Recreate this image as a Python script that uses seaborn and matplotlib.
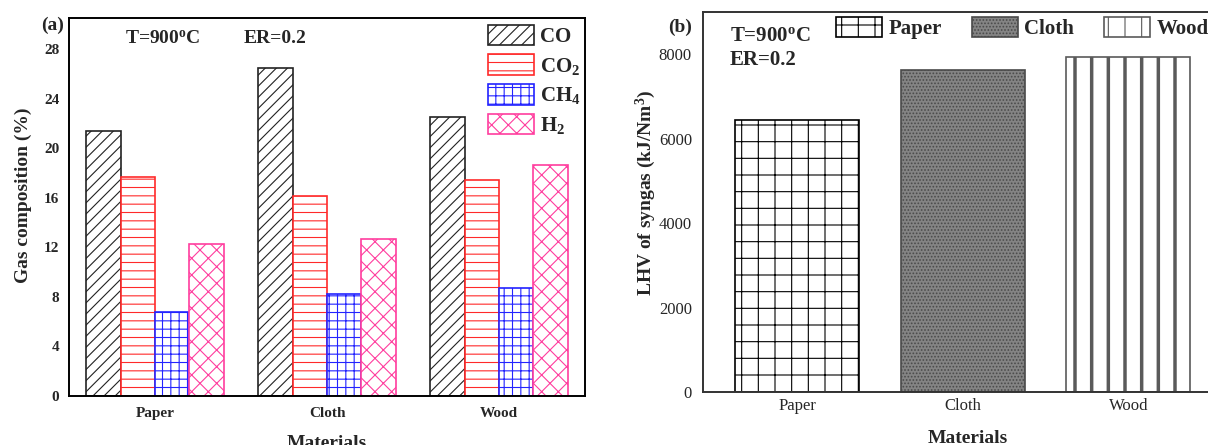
import numpy as np
import pandas as pd
import matplotlib.pyplot as plt
import seaborn as sns

# Data
materials = ['Paper', 'Cloth', 'Wood']
gases = ['CO', 'CO2', 'CH4', 'H2']
gas_labels = ['CO', 'CO$_\\mathbf{2}$', 'CH$_\\mathbf{4}$', 'H$_\\mathbf{2}$']
co = [21.4, 26.5, 22.5]
co2 = [17.7, 16.1, 17.4]
ch4 = [6.8, 8.2, 8.7]
h2 = [12.3, 12.7, 18.6]
lhv = [6450, 7620, 7930]
gas_ticks = [0, 4, 8, 12, 16, 20, 24, 28]
lhv_ticks = [0, 2000, 4000, 6000, 8000]

sns.set_style('white')
plt.rcParams['font.family'] = ['Liberation Serif', 'DejaVu Serif']
plt.rcParams['mathtext.fontset'] = 'custom'
plt.rcParams['mathtext.rm'] = 'Liberation Serif'
plt.rcParams['mathtext.bf'] = 'Liberation Serif:bold'
plt.rcParams['mathtext.it'] = 'Liberation Serif:italic'
plt.rcParams['hatch.linewidth'] = 0.8

df = pd.DataFrame({
    'Material': materials * 4,
    'Gas': np.repeat(gases, 3),
    'Value': co + co2 + ch4 + h2,
})

fig = plt.figure(figsize=(12.08, 4.45), dpi=100)
ax1 = fig.add_axes([69 / 1208, 49 / 445, 516 / 1208, 378 / 445])
ax2 = fig.add_axes([703 / 1208, 53 / 445, 509 / 1208, 380 / 445])

# (a) gas composition
sns.barplot(data=df, x='Material', y='Value', hue='Gas', order=materials,
            hue_order=gases, width=0.8, errorbar=None, ax=ax1, legend=False)
gas_hatch = ['///', '--', '++', 'xx']
gas_color = ['#222222', '#ff2a2a', '#2323ff', '#ff3d9e']
for cont, h, c in zip(ax1.containers, gas_hatch, gas_color):
    for p in cont:
        p.set_facecolor('white')
        p.set_edgecolor(c)
        p.set_hatch(h)
        p.set_linewidth(1.2)
ax1.legend(ax1.containers, gas_labels, loc='upper right', frameon=False,
           bbox_to_anchor=(1.012, 1.01),
           prop={'weight': 'bold', 'size': 15}, handlelength=2.2, handleheight=1.15,
           labelspacing=0.35, handletextpad=0.3, borderaxespad=0.1)

ax1.set_xlim(-0.5, 2.5)
ax1.set_ylim(0, 30.5)
ax1.set_yticks(gas_ticks)
ax1.tick_params(axis='y', direction='out', length=5, width=1.3, labelsize=11, pad=2)
ax1.tick_params(axis='x', length=0, labelsize=11, pad=8)
for lab in ax1.get_xticklabels() + ax1.get_yticklabels():
    lab.set_fontweight('bold')
for s in ax1.spines.values():
    s.set_linewidth(1.4)
    s.set_color('black')
ax1.set_ylabel('Gas composition (%)', fontsize=14, fontweight='bold')
ax1.yaxis.set_label_coords(-0.071, 0.53)
ax1.set_xlabel('Materials', fontsize=14, fontweight='bold')
ax1.xaxis.set_label_coords(0.5, -0.102)
ax1.text(0.108, 0.945, 'T=900$^\\mathbf{o}$C', transform=ax1.transAxes,
         fontsize=14, fontweight='bold', va='center')
ax1.text(0.338, 0.945, 'ER=0.2', transform=ax1.transAxes,
         fontsize=14, fontweight='bold', va='center')
fig.text(53 / 1208, 1 - 25 / 445, '(a)', fontsize=14, fontweight='bold',
         ha='center', va='center')

# (b) LHV of syngas
sns.barplot(x=materials, y=lhv, hue=materials, order=materials, hue_order=materials,
            width=0.75, errorbar=None, ax=ax2, legend=False)
lhv_hatch = ['+', '.....', '|']
lhv_face = ['white', '#848484', 'white']
lhv_edge = ['black', '#4a4a4a', '#5a5a5a']
for cont, h, fc, ec in zip(ax2.containers, lhv_hatch, lhv_face, lhv_edge):
    for p in cont:
        p.set_facecolor(fc)
        p.set_edgecolor(ec)
        p.set_hatch(h)
        p.set_linewidth(1.2)
        if h == '|' and hasattr(p, 'set_hatch_linewidth'):
            p.set_hatch_linewidth(2.5)
ax2.legend(ax2.containers, materials, loc='upper left', ncol=3, frameon=False,
           bbox_to_anchor=((826 - 703) / 509, 1.015),
           prop={'weight': 'bold', 'size': 15}, handlelength=2.2, handleheight=1.15,
           handletextpad=0.3, columnspacing=1.45, borderaxespad=0.1)

ax2.set_xlim(-0.57, 2.505)
ax2.set_ylim(0, 9000)
ax2.set_yticks(lhv_ticks)
ax2.tick_params(axis='y', direction='in', length=6, width=1.3, labelsize=12, pad=8)
ax2.tick_params(axis='x', length=0, labelsize=12, pad=4)
for s in ax2.spines.values():
    s.set_linewidth(1.4)
    s.set_color('#333333')
ax2.set_ylabel('LHV of syngas (kJ/Nm$^\\mathbf{3}$)', fontsize=14, fontweight='bold')
ax2.yaxis.set_label_coords(-0.089, 0.524)
ax2.set_xlabel('Materials', fontsize=14, fontweight='bold')
ax2.xaxis.set_label_coords(0.52, -0.1)
ax2.text(0.053, 0.937, 'T=900$^\\mathbf{o}$C', transform=ax2.transAxes,
         fontsize=15, fontweight='bold', va='center')
ax2.text(0.053, 0.874, 'ER=0.2', transform=ax2.transAxes,
         fontsize=15, fontweight='bold', va='center')
fig.text(680 / 1208, 1 - 27 / 445, '(b)', fontsize=14, fontweight='bold',
         ha='center', va='center')

fig.savefig('out.png', dpi=100)
plt.close(fig)
